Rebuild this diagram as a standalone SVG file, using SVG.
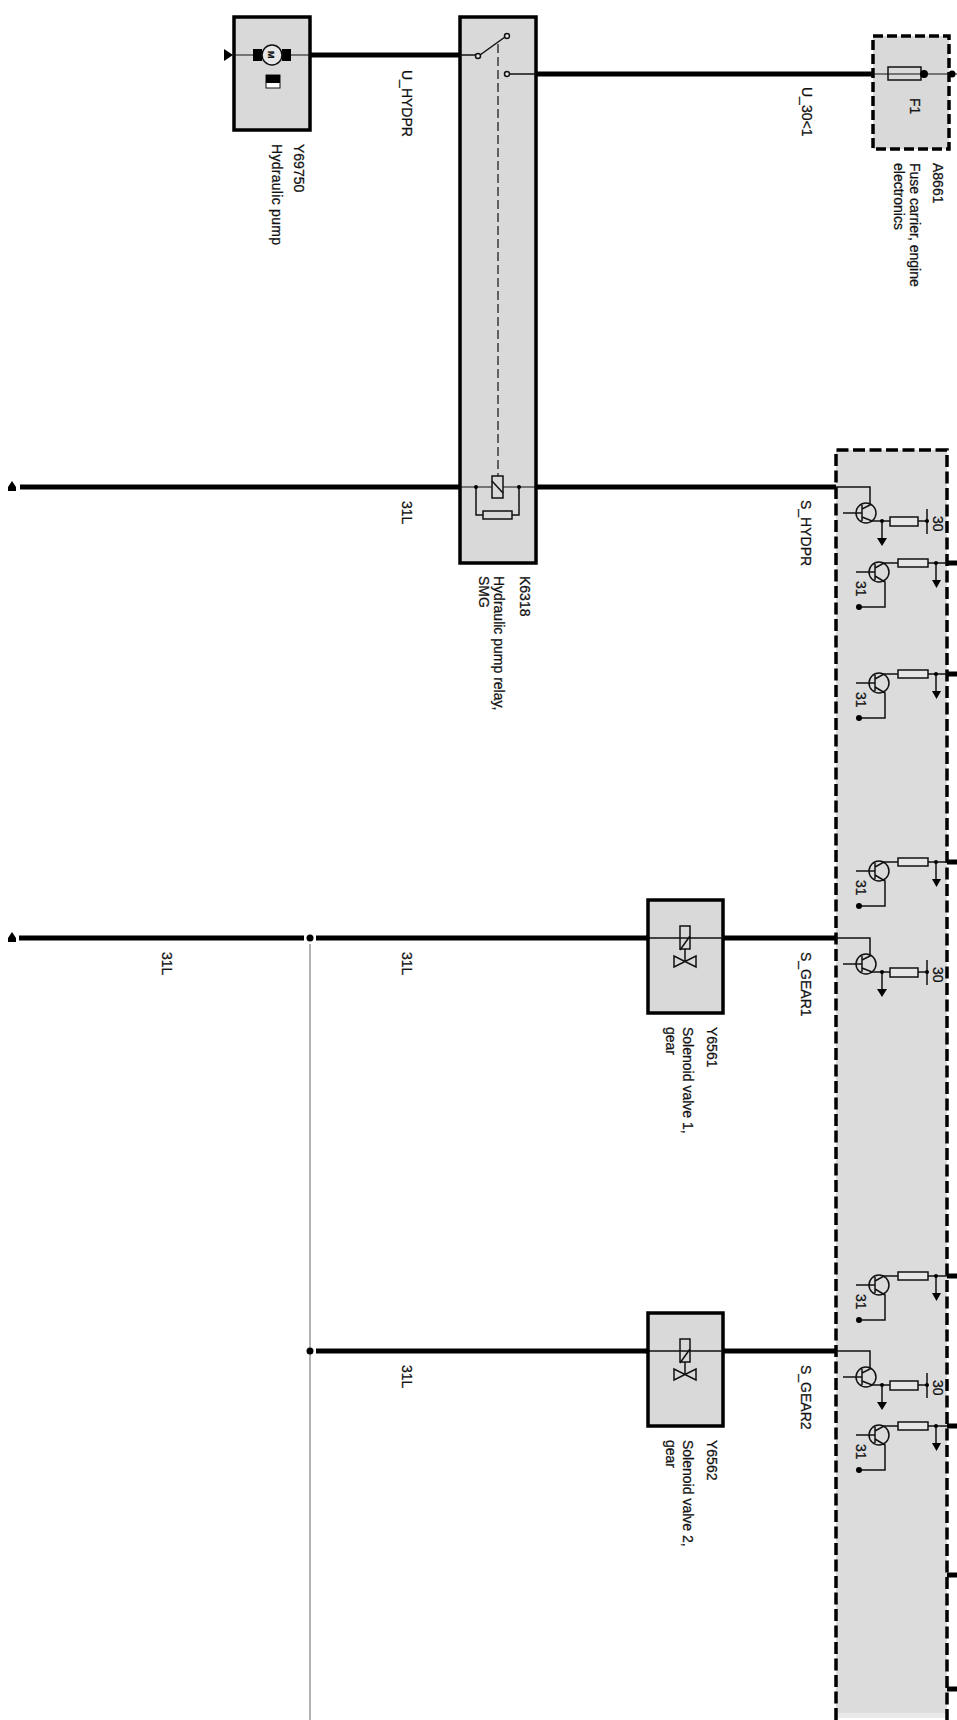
<svg xmlns="http://www.w3.org/2000/svg" width="957" height="1720" viewBox="0 0 957 1720">
<style>
text{font-family:"Liberation Sans",Arial,sans-serif;font-size:14px;fill:#111;stroke:#111;stroke-width:.25}
.box{fill:#d9d9d9;stroke:#000;stroke-width:3.5}
.fill{fill:#dcdcdc;stroke:none}
.dash{fill:none;stroke:#000;stroke-width:3.5;stroke-dasharray:12 4.5}
.dashS{fill:#d9d9d9;stroke:#000;stroke-width:3.5;stroke-dasharray:10 4}
.wire{fill:none;stroke:#000;stroke-width:5}
.thin{fill:none;stroke:#111;stroke-width:1.2}
.sym{fill:none;stroke:#111;stroke-width:1.5}
.white{fill:#e6e6e6;stroke:#111;stroke-width:1.5}
.blk{fill:#000;stroke:none}
.link{fill:none;stroke:#111;stroke-width:1.2;stroke-dasharray:9 4}
.gray{fill:none;stroke:#999;stroke-width:1.5}
</style>
<defs>
<g id="drvA">
<path class="sym" d="M836 0H870V18L862 22M862 18V34M843 26H862M862 30L872 34H890M918 34H927M927 22V47M882 34V51"/>
<circle class="sym" cx="866" cy="26" r="10"/>
<rect class="white" x="890" y="30" width="28" height="9"/>
<circle class="blk" cx="882" cy="34" r="2"/><circle class="blk" cx="927" cy="34" r="2"/>
<path class="blk" d="M877 51H887L882 59Z"/>
<text x="933" y="29" transform="rotate(90 933 29)">30</text>
</g>
<g id="drvB">
<path class="sym" d="M875 1V17M875 5L884 0H898M856 9H875M875 13L885 19V44H860M928 0H947M936 0V17"/>
<circle class="sym" cx="879" cy="9" r="10"/>
<rect class="white" x="898" y="-4" width="30" height="8"/>
<circle class="blk" cx="936" cy="0" r="2"/><circle class="blk" cx="859" cy="44" r="3"/>
<path class="blk" d="M932 17H941L936.500 25Z"/>
<rect class="blk" x="947" y="-2.500" width="10" height="5"/>
<text x="856" y="18" transform="rotate(90 856 18)">31</text>
</g>
<g id="valve">
<path class="sym" d="M647 0H723M680 12L690 -2M685 11V23M674 18V29L696 18V29Z"/>
<rect class="sym" x="680" y="-12" width="10" height="23"/>
<circle class="blk" cx="647" cy="0" r="2.500"/>
</g>
<path id="endL" class="blk" d="M12 -6L16 0V4H8V0Z"/>
</defs>

<g id="connectors">
<path class="wire" d="M310 55H460"/>
<path class="wire" d="M536 74H872"/>
<path class="wire" d="M20 487H460M536 487H836"/>
<path class="wire" d="M19 938H304M316 938H647M723 938H836"/>
<path class="wire" d="M316 1351H647M723 1351H836"/>
<path class="gray" d="M310 944V1720"/>
<circle class="blk" cx="310" cy="938" r="3.500"/>
<circle class="blk" cx="310" cy="1351" r="3.500"/>
<use href="#endL" transform="translate(0 487)"/>
<use href="#endL" transform="translate(0 938)"/>
<text x="402" y="501" transform="rotate(90 402 501)">31L</text>
<text x="402" y="952" transform="rotate(90 402 952)">31L</text>
<text x="162" y="952" transform="rotate(90 162 952)">31L</text>
<text x="402" y="1365" transform="rotate(90 402 1365)">31L</text>
<text x="402" y="70" transform="rotate(90 402 70)">U_HYDPR</text>
<text x="802" y="87" transform="rotate(90 802 87)">U_30&lt;1</text>
<text x="801" y="500" transform="rotate(90 801 500)">S_HYDPR</text>
<text x="801" y="952" transform="rotate(90 801 952)">S_GEAR1</text>
<text x="801" y="1365" transform="rotate(90 801 1365)">S_GEAR2</text>
</g>

<g id="Y69750">
<rect class="box" x="234" y="17" width="76" height="113"/>
<path class="thin" d="M233 55H310"/>
<path class="blk" d="M224 49L233 55L224 61Z"/>
<rect class="blk" x="253" y="49" width="9" height="12"/>
<rect class="blk" x="282" y="49" width="9" height="12"/>
<circle cx="272" cy="55" r="10" fill="#e6e6e6" stroke="#111" stroke-width="1.500"/>
<text x="268" y="51" transform="rotate(90 268 51)" style="font-size:9px;font-weight:bold">M</text>
<rect x="266" y="75" width="14" height="13" fill="#fff" stroke="#111"/>
<rect class="blk" x="266" y="75" width="14" height="8"/>
<text x="294" y="144" transform="rotate(90 294 144)">Y69750</text>
<text x="272" y="144" transform="rotate(90 272 144)" textLength="101">Hydraulic pump</text>
</g>

<g id="K6318">
<rect class="box" x="460" y="17" width="76" height="546"/>
<path class="sym" d="M460 55H476M480 55L505 37M510 74H536"/>
<circle class="white" cx="478" cy="56" r="2.500"/>
<circle class="white" cx="507" cy="36" r="2.500"/>
<circle class="white" cx="507" cy="74" r="2.500"/>
<path class="link" d="M498 44V476"/>
<path class="thin" d="M460 487H492M503 487H536"/>
<rect class="sym" x="492" y="476" width="11" height="22"/>
<path class="sym" d="M492 481L503 493"/>
<path class="sym" d="M476 487V515H483M512 515H519V487"/>
<rect class="sym" x="483" y="511" width="29" height="8"/>
<circle class="blk" cx="476" cy="487" r="2"/><circle class="blk" cx="519" cy="487" r="2"/>
<text x="520" y="576" transform="rotate(90 520 576)">K6318</text>
<text x="494" y="576" transform="rotate(90 494 576)">Hydraulic pump relay,</text>
<text x="479" y="576" transform="rotate(90 479 576)">SMG</text>
</g>

<g id="A8661">
<rect class="dashS" x="873" y="36" width="76" height="113"/>
<path class="thin" d="M872 74H957"/>
<rect class="sym" x="888" y="67" width="33" height="13"/>
<circle class="blk" cx="924" cy="74" r="4"/>
<circle class="blk" cx="952" cy="74" r="3.500"/>
<text x="910" y="98" transform="rotate(90 910 98)">F1</text>
<text x="933" y="163" transform="rotate(90 933 163)">A8661</text>
<text x="910" y="163" transform="rotate(90 910 163)">Fuse carrier, engine</text>
<text x="894" y="163" transform="rotate(90 894 163)">electronics</text>
</g>

<g id="Y6561">
<rect class="box" x="648" y="900" width="75" height="113"/>
<use href="#valve" transform="translate(0 938)"/>
<text x="707" y="1027" transform="rotate(90 707 1027)">Y6561</text>
<text x="683" y="1027" transform="rotate(90 683 1027)">Solenoid valve 1,</text>
<text x="666" y="1027" transform="rotate(90 666 1027)">gear</text>
</g>

<g id="Y6562">
<rect class="box" x="648" y="1313" width="75" height="113"/>
<use href="#valve" transform="translate(0 1351)"/>
<text x="707" y="1440" transform="rotate(90 707 1440)">Y6562</text>
<text x="683" y="1440" transform="rotate(90 683 1440)">Solenoid valve 2,</text>
<text x="666" y="1440" transform="rotate(90 666 1440)">gear</text>
</g>

<g id="control-unit">
<rect class="fill" x="836" y="450" width="111" height="1263"/>
<rect x="836" y="1713" width="111" height="5" fill="#eaeaea"/>
<path class="dash" d="M836 1720V450H947V1720"/>
<use href="#drvA" transform="translate(0 487)"/>
<use href="#drvB" transform="translate(0 563)"/>
<use href="#drvB" transform="translate(0 674)"/>
<use href="#drvB" transform="translate(0 862)"/>
<use href="#drvA" transform="translate(0 938)"/>
<use href="#drvB" transform="translate(0 1276)"/>
<use href="#drvA" transform="translate(0 1351)"/>
<use href="#drvB" transform="translate(0 1426)"/>
<rect class="blk" x="947" y="1572.500" width="10" height="5"/>
<rect class="blk" x="947" y="1686.500" width="10" height="5"/>
</g>
</svg>
